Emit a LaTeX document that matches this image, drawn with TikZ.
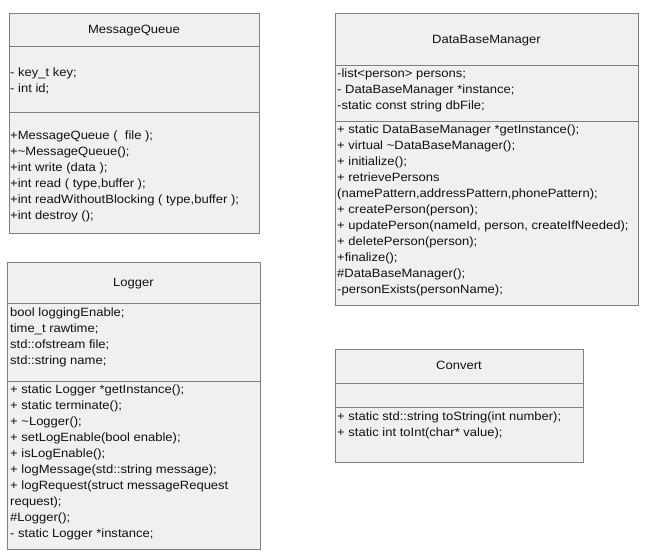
\documentclass[tikz,border=0pt]{standalone}
\usepackage{fontspec}
\setmainfont[FakeStretch=1.085]{Liberation Sans}
\definecolor{boxfill}{HTML}{F0F0F0}
\definecolor{boxline}{HTML}{7F7F7F}
\definecolor{txtcol}{HTML}{111111}
\tikzset{
  classbox/.style={draw=boxline, fill=boxfill, line width=0.9pt, inner sep=0pt, anchor=north west},
  sepline/.style={draw=boxline, line width=0.9pt},
  member/.style={anchor=base west, inner sep=0pt, text=txtcol, font=\fontsize{12}{16}\selectfont},
  title/.style={anchor=base, inner sep=0pt, text=txtcol, font=\fontsize{12}{16}\selectfont}
}
\begin{document}
\begin{tikzpicture}[x=1pt,y=-1pt]
\useasboundingbox (0,0) rectangle (649,559);
% ---------- MessageQueue
\node[classbox, minimum width=250pt, minimum height=220pt] (mq) at (9,13) {};
\draw[sepline] (9,46) -- (259,46);
\draw[sepline] (9,112) -- (259,112);
\node[title] (mqt) at (134,33.5) {MessageQueue};
\foreach \t [count=\i from 0] in {{- key\_t key;},{- int id;}}
  \node[member, name=mqa\i] at (10,{77+16*\i}) {\t};
\foreach \t [count=\i from 0] in {{+MessageQueue (\ \ file );},{+\textasciitilde MessageQueue();},{+int write (data );},{+int read ( type,buffer );},{+int readWithoutBlocking ( type,buffer );},{+int destroy ();}}
  \node[member, name=mqm\i] at (10,{140+16*\i}) {\t};
% ---------- DataBaseManager
\node[classbox, minimum width=303pt, minimum height=292pt] (db) at (335,13) {};
\draw[sepline] (335,65) -- (638,65);
\draw[sepline] (335,121) -- (638,121);
\node[title] (dbt) at (486.5,43.5) {DataBaseManager};
\foreach \t [count=\i from 0] in {{-list<person> persons;},{- DataBaseManager *instance;},{-static const string dbFile;}}
  \node[member, name=dba\i] at (337,{77.5+16*\i}) {\t};
\foreach \t [count=\i from 0] in {{+ static DataBaseManager *getInstance();},{+ virtual \textasciitilde DataBaseManager();},{+ initialize();},{+ retrievePersons},{(namePattern,addressPattern,phonePattern);},{+ createPerson(person);},{+ updatePerson(nameId, person, createIfNeeded);},{+ deletePerson(person);},{+finalize();},{\#DataBaseManager();},{-personExists(personName);}}
  \node[member, name=dbm\i] at (337,{133.5+16*\i}) {\t};
% ---------- Logger
\node[classbox, minimum width=253pt, minimum height=287pt] (lg) at (7,262) {};
\draw[sepline] (7,303) -- (260,303);
\draw[sepline] (7,381) -- (260,381);
\node[title] (lgt) at (133.5,286.5) {Logger};
\foreach \t [count=\i from 0] in {{bool loggingEnable;},{time\_t rawtime;},{std::ofstream file;},{std::string name;}}
  \node[member, name=lga\i] at (10,{316.5+16*\i}) {\t};
\foreach \t [count=\i from 0] in {{+ static Logger *getInstance();},{+ static terminate();},{+ \textasciitilde Logger();},{+ setLogEnable(bool enable);},{+ isLogEnable();},{+ logMessage(std::string message);},{+ logRequest(struct messageRequest},{request);},{\#Logger();},{- static Logger *instance;}}
  \node[member, name=lgm\i] at (10,{393.5+16*\i}) {\t};
% ---------- Convert
\node[classbox, minimum width=248pt, minimum height=113pt] (cv) at (335,349) {};
\draw[sepline] (335,383) -- (583,383);
\draw[sepline] (335,407) -- (583,407);
\node[title] (cvt) at (459,369.5) {Convert};
\foreach \t [count=\i from 0] in {{+ static std::string toString(int number);},{+ static int toInt(char* value);}}
  \node[member, name=cvm\i] at (337,{420.5+16*\i}) {\t};
\end{tikzpicture}
\end{document}
